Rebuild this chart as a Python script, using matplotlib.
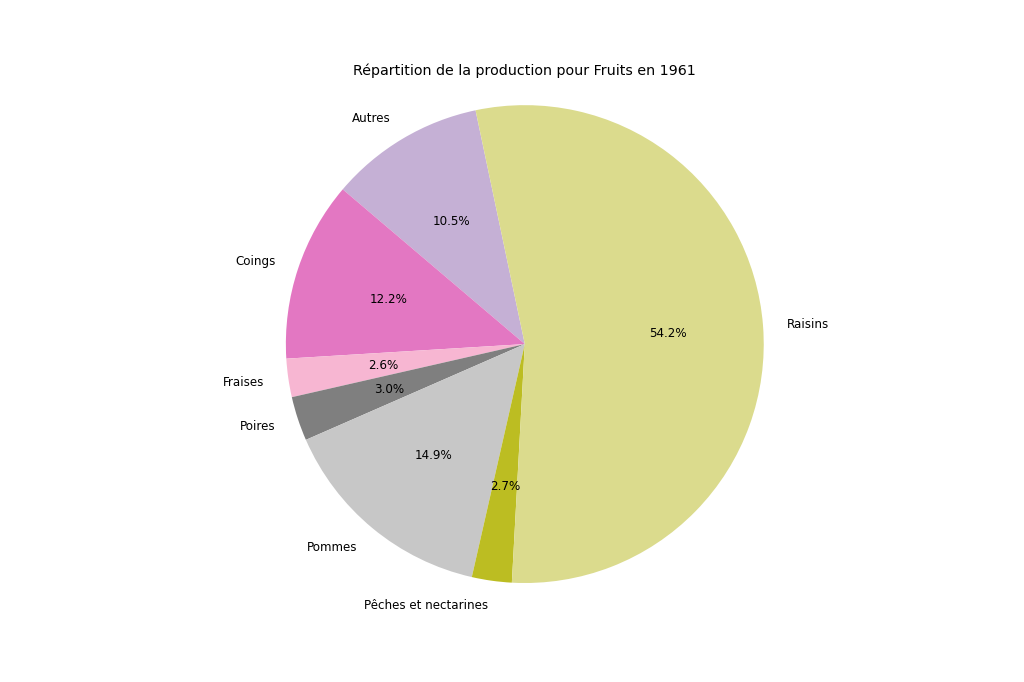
import matplotlib
matplotlib.use("Agg")
import matplotlib.pyplot as plt

labels = ["Autres", "Coings", "Fraises", "Poires", "Pommes",
          "Pêches et nectarines", "Raisins"]
values = [10.5, 12.2, 2.6, 3.0, 14.9, 2.7, 54.25]
colors = ["#c5b0d5", "#e377c2", "#f7b6d2", "#7f7f7f", "#c7c7c7",
          "#bcbd22", "#dbdb8d"]

fig = plt.figure(figsize=(12, 8), dpi=1024 / 12)
plt.pie(values, labels=labels, colors=colors, autopct='%1.1f%%',
        startangle=101.9)
plt.title("Répartition de la production pour Fruits en 1961")
plt.axis('equal')
plt.savefig('out.png', dpi=1024 / 12)
